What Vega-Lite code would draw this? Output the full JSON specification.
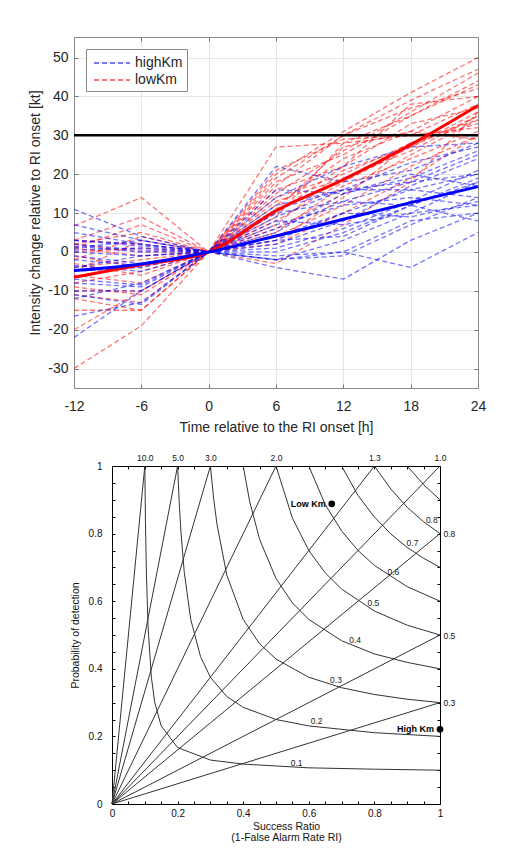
{
"$schema": "https://vega.github.io/schema/vega-lite/v6.json",
"background": "white",
"padding": {"left": 28, "top": 36, "right": 5, "bottom": 0},
"spacing": 19,
"config": {"font": "Liberation Sans", "view": {"stroke": null}, "axis": {"labelFont": "Liberation Sans", "titleFont": "Liberation Sans", "titleFontWeight": "normal", "labelFlush": false, "labelOverlap": false}},
"datasets": {
"ind": [
{"s":"R1","k":"lowKm","t":-12,"v":6.7},{"s":"R1","k":"lowKm","t":-6,"v":14},{"s":"R1","k":"lowKm","t":0,"v":0},{"s":"R1","k":"lowKm","t":6,"v":27},{"s":"R1","k":"lowKm","t":12,"v":28},{"s":"R1","k":"lowKm","t":18,"v":35},{"s":"R1","k":"lowKm","t":24,"v":43},
{"s":"R2","k":"lowKm","t":-12,"v":-30},{"s":"R2","k":"lowKm","t":-6,"v":-19},{"s":"R2","k":"lowKm","t":0,"v":0},{"s":"R2","k":"lowKm","t":6,"v":20},{"s":"R2","k":"lowKm","t":12,"v":31},{"s":"R2","k":"lowKm","t":18,"v":41},{"s":"R2","k":"lowKm","t":24,"v":50},
{"s":"R3","k":"lowKm","t":-12,"v":3},{"s":"R3","k":"lowKm","t":-6,"v":9},{"s":"R3","k":"lowKm","t":0,"v":0},{"s":"R3","k":"lowKm","t":6,"v":17},{"s":"R3","k":"lowKm","t":12,"v":30},{"s":"R3","k":"lowKm","t":18,"v":39},{"s":"R3","k":"lowKm","t":24,"v":47},
{"s":"R4","k":"lowKm","t":-12,"v":1},{"s":"R4","k":"lowKm","t":-6,"v":7},{"s":"R4","k":"lowKm","t":0,"v":0},{"s":"R4","k":"lowKm","t":6,"v":15},{"s":"R4","k":"lowKm","t":12,"v":26},{"s":"R4","k":"lowKm","t":18,"v":36},{"s":"R4","k":"lowKm","t":24,"v":46},
{"s":"R5","k":"lowKm","t":-12,"v":-2},{"s":"R5","k":"lowKm","t":-6,"v":4},{"s":"R5","k":"lowKm","t":0,"v":0},{"s":"R5","k":"lowKm","t":6,"v":12},{"s":"R5","k":"lowKm","t":12,"v":24},{"s":"R5","k":"lowKm","t":18,"v":31},{"s":"R5","k":"lowKm","t":24,"v":40},
{"s":"R6","k":"lowKm","t":-12,"v":-4},{"s":"R6","k":"lowKm","t":-6,"v":-2},{"s":"R6","k":"lowKm","t":0,"v":0},{"s":"R6","k":"lowKm","t":6,"v":10},{"s":"R6","k":"lowKm","t":12,"v":22},{"s":"R6","k":"lowKm","t":18,"v":33},{"s":"R6","k":"lowKm","t":24,"v":37},
{"s":"R7","k":"lowKm","t":-12,"v":-10},{"s":"R7","k":"lowKm","t":-6,"v":-10},{"s":"R7","k":"lowKm","t":0,"v":0},{"s":"R7","k":"lowKm","t":6,"v":8},{"s":"R7","k":"lowKm","t":12,"v":18},{"s":"R7","k":"lowKm","t":18,"v":27},{"s":"R7","k":"lowKm","t":24,"v":35},
{"s":"R8","k":"lowKm","t":-12,"v":-11},{"s":"R8","k":"lowKm","t":-6,"v":-13},{"s":"R8","k":"lowKm","t":0,"v":0},{"s":"R8","k":"lowKm","t":6,"v":6},{"s":"R8","k":"lowKm","t":12,"v":15},{"s":"R8","k":"lowKm","t":18,"v":25},{"s":"R8","k":"lowKm","t":24,"v":34},
{"s":"R9","k":"lowKm","t":-12,"v":-12},{"s":"R9","k":"lowKm","t":-6,"v":-15},{"s":"R9","k":"lowKm","t":0,"v":0},{"s":"R9","k":"lowKm","t":6,"v":14},{"s":"R9","k":"lowKm","t":12,"v":20},{"s":"R9","k":"lowKm","t":18,"v":28},{"s":"R9","k":"lowKm","t":24,"v":33},
{"s":"R10","k":"lowKm","t":-12,"v":-15},{"s":"R10","k":"lowKm","t":-6,"v":-15},{"s":"R10","k":"lowKm","t":0,"v":0},{"s":"R10","k":"lowKm","t":6,"v":9},{"s":"R10","k":"lowKm","t":12,"v":28},{"s":"R10","k":"lowKm","t":18,"v":30},{"s":"R10","k":"lowKm","t":24,"v":32},
{"s":"R11","k":"lowKm","t":-12,"v":-20},{"s":"R11","k":"lowKm","t":-6,"v":-10},{"s":"R11","k":"lowKm","t":0,"v":0},{"s":"R11","k":"lowKm","t":6,"v":5},{"s":"R11","k":"lowKm","t":12,"v":17},{"s":"R11","k":"lowKm","t":18,"v":24},{"s":"R11","k":"lowKm","t":24,"v":31},
{"s":"R12","k":"lowKm","t":-12,"v":2},{"s":"R12","k":"lowKm","t":-6,"v":0},{"s":"R12","k":"lowKm","t":0,"v":0},{"s":"R12","k":"lowKm","t":6,"v":2},{"s":"R12","k":"lowKm","t":12,"v":10},{"s":"R12","k":"lowKm","t":18,"v":19},{"s":"R12","k":"lowKm","t":24,"v":30},
{"s":"R13","k":"lowKm","t":-12,"v":-1},{"s":"R13","k":"lowKm","t":-6,"v":-4},{"s":"R13","k":"lowKm","t":0,"v":0},{"s":"R13","k":"lowKm","t":6,"v":-3},{"s":"R13","k":"lowKm","t":12,"v":7},{"s":"R13","k":"lowKm","t":18,"v":18},{"s":"R13","k":"lowKm","t":24,"v":36},
{"s":"R14","k":"lowKm","t":-12,"v":3},{"s":"R14","k":"lowKm","t":-6,"v":2},{"s":"R14","k":"lowKm","t":0,"v":0},{"s":"R14","k":"lowKm","t":6,"v":21},{"s":"R14","k":"lowKm","t":12,"v":29},{"s":"R14","k":"lowKm","t":18,"v":30},{"s":"R14","k":"lowKm","t":24,"v":38},
{"s":"R15","k":"lowKm","t":-12,"v":-8},{"s":"R15","k":"lowKm","t":-6,"v":-5},{"s":"R15","k":"lowKm","t":0,"v":0},{"s":"R15","k":"lowKm","t":6,"v":11},{"s":"R15","k":"lowKm","t":12,"v":27},{"s":"R15","k":"lowKm","t":18,"v":31},{"s":"R15","k":"lowKm","t":24,"v":29},
{"s":"R16","k":"lowKm","t":-12,"v":-6},{"s":"R16","k":"lowKm","t":-6,"v":-8},{"s":"R16","k":"lowKm","t":0,"v":0},{"s":"R16","k":"lowKm","t":6,"v":13},{"s":"R16","k":"lowKm","t":12,"v":19},{"s":"R16","k":"lowKm","t":18,"v":26},{"s":"R16","k":"lowKm","t":24,"v":35},
{"s":"R17","k":"lowKm","t":-12,"v":0},{"s":"R17","k":"lowKm","t":-6,"v":1},{"s":"R17","k":"lowKm","t":0,"v":0},{"s":"R17","k":"lowKm","t":6,"v":19},{"s":"R17","k":"lowKm","t":12,"v":30},{"s":"R17","k":"lowKm","t":18,"v":37},{"s":"R17","k":"lowKm","t":24,"v":42},
{"s":"R18","k":"lowKm","t":-12,"v":-3},{"s":"R18","k":"lowKm","t":-6,"v":-6},{"s":"R18","k":"lowKm","t":0,"v":0},{"s":"R18","k":"lowKm","t":6,"v":4},{"s":"R18","k":"lowKm","t":12,"v":12},{"s":"R18","k":"lowKm","t":18,"v":22},{"s":"R18","k":"lowKm","t":24,"v":30},
{"s":"R19","k":"lowKm","t":-12,"v":2},{"s":"R19","k":"lowKm","t":-6,"v":5},{"s":"R19","k":"lowKm","t":0,"v":0},{"s":"R19","k":"lowKm","t":6,"v":16},{"s":"R19","k":"lowKm","t":12,"v":22},{"s":"R19","k":"lowKm","t":18,"v":38},{"s":"R19","k":"lowKm","t":24,"v":40},
{"s":"R20","k":"lowKm","t":-12,"v":-9},{"s":"R20","k":"lowKm","t":-6,"v":-11},{"s":"R20","k":"lowKm","t":0,"v":0},{"s":"R20","k":"lowKm","t":6,"v":7},{"s":"R20","k":"lowKm","t":12,"v":21},{"s":"R20","k":"lowKm","t":18,"v":27},{"s":"R20","k":"lowKm","t":24,"v":36},
{"s":"R21","k":"lowKm","t":-12,"v":1},{"s":"R21","k":"lowKm","t":-6,"v":-1},{"s":"R21","k":"lowKm","t":0,"v":0},{"s":"R21","k":"lowKm","t":6,"v":3},{"s":"R21","k":"lowKm","t":12,"v":14},{"s":"R21","k":"lowKm","t":18,"v":28},{"s":"R21","k":"lowKm","t":24,"v":34},
{"s":"R22","k":"lowKm","t":-12,"v":-5},{"s":"R22","k":"lowKm","t":-6,"v":3},{"s":"R22","k":"lowKm","t":0,"v":0},{"s":"R22","k":"lowKm","t":6,"v":18},{"s":"R22","k":"lowKm","t":12,"v":25},{"s":"R22","k":"lowKm","t":18,"v":35},{"s":"R22","k":"lowKm","t":24,"v":44},
{"s":"B1","k":"highKm","t":-12,"v":11},{"s":"B1","k":"highKm","t":-6,"v":4},{"s":"B1","k":"highKm","t":0,"v":0},{"s":"B1","k":"highKm","t":6,"v":22},{"s":"B1","k":"highKm","t":12,"v":18},{"s":"B1","k":"highKm","t":18,"v":21},{"s":"B1","k":"highKm","t":24,"v":28},
{"s":"B2","k":"highKm","t":-12,"v":7},{"s":"B2","k":"highKm","t":-6,"v":3},{"s":"B2","k":"highKm","t":0,"v":0},{"s":"B2","k":"highKm","t":6,"v":16},{"s":"B2","k":"highKm","t":12,"v":15},{"s":"B2","k":"highKm","t":18,"v":19},{"s":"B2","k":"highKm","t":24,"v":26},
{"s":"B3","k":"highKm","t":-12,"v":3},{"s":"B3","k":"highKm","t":-6,"v":1.5},{"s":"B3","k":"highKm","t":0,"v":0},{"s":"B3","k":"highKm","t":6,"v":12},{"s":"B3","k":"highKm","t":12,"v":16},{"s":"B3","k":"highKm","t":18,"v":23},{"s":"B3","k":"highKm","t":24,"v":27},
{"s":"B4","k":"highKm","t":-12,"v":2},{"s":"B4","k":"highKm","t":-6,"v":0.5},{"s":"B4","k":"highKm","t":0,"v":0},{"s":"B4","k":"highKm","t":6,"v":6},{"s":"B4","k":"highKm","t":12,"v":13},{"s":"B4","k":"highKm","t":18,"v":18},{"s":"B4","k":"highKm","t":24,"v":25},
{"s":"B5","k":"highKm","t":-12,"v":0},{"s":"B5","k":"highKm","t":-6,"v":-1},{"s":"B5","k":"highKm","t":0,"v":0},{"s":"B5","k":"highKm","t":6,"v":3},{"s":"B5","k":"highKm","t":12,"v":10},{"s":"B5","k":"highKm","t":18,"v":16},{"s":"B5","k":"highKm","t":24,"v":20},
{"s":"B6","k":"highKm","t":-12,"v":-1},{"s":"B6","k":"highKm","t":-6,"v":-3},{"s":"B6","k":"highKm","t":0,"v":0},{"s":"B6","k":"highKm","t":6,"v":0},{"s":"B6","k":"highKm","t":12,"v":5},{"s":"B6","k":"highKm","t":18,"v":12},{"s":"B6","k":"highKm","t":24,"v":19},
{"s":"B7","k":"highKm","t":-12,"v":-3.5},{"s":"B7","k":"highKm","t":-6,"v":-5},{"s":"B7","k":"highKm","t":0,"v":0},{"s":"B7","k":"highKm","t":6,"v":-2},{"s":"B7","k":"highKm","t":12,"v":3},{"s":"B7","k":"highKm","t":18,"v":10},{"s":"B7","k":"highKm","t":24,"v":18},
{"s":"B8","k":"highKm","t":-12,"v":-7},{"s":"B8","k":"highKm","t":-6,"v":-8.5},{"s":"B8","k":"highKm","t":0,"v":0},{"s":"B8","k":"highKm","t":6,"v":-2},{"s":"B8","k":"highKm","t":12,"v":-1},{"s":"B8","k":"highKm","t":18,"v":7},{"s":"B8","k":"highKm","t":24,"v":14},
{"s":"B9","k":"highKm","t":-12,"v":-10},{"s":"B9","k":"highKm","t":-6,"v":-10},{"s":"B9","k":"highKm","t":0,"v":0},{"s":"B9","k":"highKm","t":6,"v":-1},{"s":"B9","k":"highKm","t":12,"v":0},{"s":"B9","k":"highKm","t":18,"v":-4},{"s":"B9","k":"highKm","t":24,"v":5},
{"s":"B10","k":"highKm","t":-12,"v":-11},{"s":"B10","k":"highKm","t":-6,"v":-13.5},{"s":"B10","k":"highKm","t":0,"v":0},{"s":"B10","k":"highKm","t":6,"v":-4},{"s":"B10","k":"highKm","t":12,"v":-7},{"s":"B10","k":"highKm","t":18,"v":3},{"s":"B10","k":"highKm","t":24,"v":10},
{"s":"B11","k":"highKm","t":-12,"v":-16.5},{"s":"B11","k":"highKm","t":-6,"v":-13},{"s":"B11","k":"highKm","t":0,"v":0},{"s":"B11","k":"highKm","t":6,"v":10},{"s":"B11","k":"highKm","t":12,"v":13},{"s":"B11","k":"highKm","t":18,"v":12},{"s":"B11","k":"highKm","t":24,"v":8},
{"s":"B12","k":"highKm","t":-12,"v":-22},{"s":"B12","k":"highKm","t":-6,"v":-10},{"s":"B12","k":"highKm","t":0,"v":0},{"s":"B12","k":"highKm","t":6,"v":2},{"s":"B12","k":"highKm","t":12,"v":8},{"s":"B12","k":"highKm","t":18,"v":17},{"s":"B12","k":"highKm","t":24,"v":24},
{"s":"B13","k":"highKm","t":-12,"v":1},{"s":"B13","k":"highKm","t":-6,"v":3},{"s":"B13","k":"highKm","t":0,"v":0},{"s":"B13","k":"highKm","t":6,"v":14},{"s":"B13","k":"highKm","t":12,"v":22},{"s":"B13","k":"highKm","t":18,"v":27},{"s":"B13","k":"highKm","t":24,"v":28},
{"s":"B14","k":"highKm","t":-12,"v":-2},{"s":"B14","k":"highKm","t":-6,"v":-3.5},{"s":"B14","k":"highKm","t":0,"v":0},{"s":"B14","k":"highKm","t":6,"v":7},{"s":"B14","k":"highKm","t":12,"v":12},{"s":"B14","k":"highKm","t":18,"v":14},{"s":"B14","k":"highKm","t":24,"v":12},
{"s":"B15","k":"highKm","t":-12,"v":0.5},{"s":"B15","k":"highKm","t":-6,"v":1},{"s":"B15","k":"highKm","t":0,"v":0},{"s":"B15","k":"highKm","t":6,"v":4},{"s":"B15","k":"highKm","t":12,"v":10},{"s":"B15","k":"highKm","t":18,"v":9},{"s":"B15","k":"highKm","t":24,"v":13},
{"s":"B16","k":"highKm","t":-12,"v":-5},{"s":"B16","k":"highKm","t":-6,"v":-4},{"s":"B16","k":"highKm","t":0,"v":0},{"s":"B16","k":"highKm","t":6,"v":1},{"s":"B16","k":"highKm","t":12,"v":6},{"s":"B16","k":"highKm","t":18,"v":13},{"s":"B16","k":"highKm","t":24,"v":21},
{"s":"B17","k":"highKm","t":-12,"v":-8},{"s":"B17","k":"highKm","t":-6,"v":-9},{"s":"B17","k":"highKm","t":0,"v":0},{"s":"B17","k":"highKm","t":6,"v":9},{"s":"B17","k":"highKm","t":12,"v":16},{"s":"B17","k":"highKm","t":18,"v":18},{"s":"B17","k":"highKm","t":24,"v":20},
{"s":"B18","k":"highKm","t":-12,"v":3},{"s":"B18","k":"highKm","t":-6,"v":2},{"s":"B18","k":"highKm","t":0,"v":0},{"s":"B18","k":"highKm","t":6,"v":-2},{"s":"B18","k":"highKm","t":12,"v":0},{"s":"B18","k":"highKm","t":18,"v":8},{"s":"B18","k":"highKm","t":24,"v":10},
{"s":"B19","k":"highKm","t":-12,"v":-12},{"s":"B19","k":"highKm","t":-6,"v":-8},{"s":"B19","k":"highKm","t":0,"v":0},{"s":"B19","k":"highKm","t":6,"v":5},{"s":"B19","k":"highKm","t":12,"v":15},{"s":"B19","k":"highKm","t":18,"v":20},{"s":"B19","k":"highKm","t":24,"v":17},
{"s":"B20","k":"highKm","t":-12,"v":1.5},{"s":"B20","k":"highKm","t":-6,"v":0},{"s":"B20","k":"highKm","t":0,"v":0},{"s":"B20","k":"highKm","t":6,"v":11},{"s":"B20","k":"highKm","t":12,"v":16},{"s":"B20","k":"highKm","t":18,"v":16},{"s":"B20","k":"highKm","t":24,"v":14},
{"s":"B21","k":"highKm","t":-12,"v":-4},{"s":"B21","k":"highKm","t":-6,"v":-1},{"s":"B21","k":"highKm","t":0,"v":0},{"s":"B21","k":"highKm","t":6,"v":8},{"s":"B21","k":"highKm","t":12,"v":7},{"s":"B21","k":"highKm","t":18,"v":10},{"s":"B21","k":"highKm","t":24,"v":12},
{"s":"B22","k":"highKm","t":-12,"v":5},{"s":"B22","k":"highKm","t":-6,"v":2},{"s":"B22","k":"highKm","t":0,"v":0},{"s":"B22","k":"highKm","t":6,"v":3},{"s":"B22","k":"highKm","t":12,"v":4},{"s":"B22","k":"highKm","t":18,"v":12},{"s":"B22","k":"highKm","t":24,"v":18}
],
"mean": [
{"k":"lowKm","t":-12,"v":-6.5},{"k":"lowKm","t":-6,"v":-3.3},{"k":"lowKm","t":0,"v":0},{"k":"lowKm","t":6,"v":10.6},{"k":"lowKm","t":12,"v":18.6},{"k":"lowKm","t":18,"v":27.6},{"k":"lowKm","t":24,"v":37.7},
{"k":"highKm","t":-12,"v":-4.8},{"k":"highKm","t":-6,"v":-3.1},{"k":"highKm","t":0,"v":0},{"k":"highKm","t":6,"v":4.1},{"k":"highKm","t":12,"v":8.4},{"k":"highKm","t":18,"v":12.7},{"k":"highKm","t":24,"v":16.8}
],
"bias": [
{"b":"10.0","sr":0,"pod":0},{"b":"10.0","sr":0.1,"pod":1},
{"b":"5.0","sr":0,"pod":0},{"b":"5.0","sr":0.2,"pod":1},
{"b":"3.0","sr":0,"pod":0},{"b":"3.0","sr":0.3,"pod":1},
{"b":"2.0","sr":0,"pod":0},{"b":"2.0","sr":0.5,"pod":1},
{"b":"1.3","sr":0,"pod":0},{"b":"1.3","sr":0.8,"pod":1},
{"b":"1.0","sr":0,"pod":0},{"b":"1.0","sr":1,"pod":1},
{"b":"0.8","sr":0,"pod":0},{"b":"0.8","sr":1,"pod":0.8},
{"b":"0.5","sr":0,"pod":0},{"b":"0.5","sr":1,"pod":0.5},
{"b":"0.3","sr":0,"pod":0},{"b":"0.3","sr":1,"pod":0.3}
],
"csi": [
{"c":"0.1","sr":0.1,"pod":1},{"c":"0.1","sr":0.102,"pod":0.836},{"c":"0.1","sr":0.105,"pod":0.678},{"c":"0.1","sr":0.11,"pod":0.524},{"c":"0.1","sr":0.12,"pod":0.375},{"c":"0.1","sr":0.13,"pod":0.302},{"c":"0.1","sr":0.15,"pod":0.231},{"c":"0.1","sr":0.2,"pod":0.167},{"c":"0.1","sr":0.3,"pod":0.13},{"c":"0.1","sr":0.4,"pod":0.118},{"c":"0.1","sr":0.6,"pod":0.107},{"c":"0.1","sr":0.8,"pod":0.103},{"c":"0.1","sr":1,"pod":0.1},
{"c":"0.2","sr":0.2,"pod":1},{"c":"0.2","sr":0.205,"pod":0.891},{"c":"0.2","sr":0.21,"pod":0.808},{"c":"0.2","sr":0.22,"pod":0.688},{"c":"0.2","sr":0.24,"pod":0.546},{"c":"0.2","sr":0.27,"pod":0.436},{"c":"0.2","sr":0.3,"pod":0.375},{"c":"0.2","sr":0.35,"pod":0.318},{"c":"0.2","sr":0.4,"pod":0.286},{"c":"0.2","sr":0.5,"pod":0.25},{"c":"0.2","sr":0.6,"pod":0.231},{"c":"0.2","sr":0.8,"pod":0.211},{"c":"0.2","sr":1,"pod":0.2},
{"c":"0.3","sr":0.3,"pod":1},{"c":"0.3","sr":0.31,"pod":0.903},{"c":"0.3","sr":0.32,"pod":0.828},{"c":"0.3","sr":0.35,"pod":0.677},{"c":"0.3","sr":0.4,"pod":0.546},{"c":"0.3","sr":0.45,"pod":0.474},{"c":"0.3","sr":0.5,"pod":0.429},{"c":"0.3","sr":0.6,"pod":0.375},{"c":"0.3","sr":0.7,"pod":0.344},{"c":"0.3","sr":0.8,"pod":0.324},{"c":"0.3","sr":0.9,"pod":0.31},{"c":"0.3","sr":1,"pod":0.3},
{"c":"0.4","sr":0.4,"pod":1},{"c":"0.4","sr":0.42,"pod":0.894},{"c":"0.4","sr":0.45,"pod":0.783},{"c":"0.4","sr":0.5,"pod":0.667},{"c":"0.4","sr":0.55,"pod":0.595},{"c":"0.4","sr":0.6,"pod":0.546},{"c":"0.4","sr":0.7,"pod":0.483},{"c":"0.4","sr":0.8,"pod":0.444},{"c":"0.4","sr":0.9,"pod":0.419},{"c":"0.4","sr":1,"pod":0.4},
{"c":"0.5","sr":0.5,"pod":1},{"c":"0.5","sr":0.55,"pod":0.846},{"c":"0.5","sr":0.6,"pod":0.75},{"c":"0.5","sr":0.65,"pod":0.684},{"c":"0.5","sr":0.7,"pod":0.636},{"c":"0.5","sr":0.8,"pod":0.571},{"c":"0.5","sr":0.9,"pod":0.529},{"c":"0.5","sr":1,"pod":0.5},
{"c":"0.6","sr":0.6,"pod":1},{"c":"0.6","sr":0.65,"pod":0.886},{"c":"0.6","sr":0.7,"pod":0.808},{"c":"0.6","sr":0.75,"pod":0.75},{"c":"0.6","sr":0.8,"pod":0.706},{"c":"0.6","sr":0.9,"pod":0.643},{"c":"0.6","sr":1,"pod":0.6},
{"c":"0.7","sr":0.7,"pod":1},{"c":"0.7","sr":0.75,"pod":0.913},{"c":"0.7","sr":0.8,"pod":0.849},{"c":"0.7","sr":0.85,"pod":0.799},{"c":"0.7","sr":0.9,"pod":0.759},{"c":"0.7","sr":0.95,"pod":0.727},{"c":"0.7","sr":1,"pod":0.7},
{"c":"0.8","sr":0.8,"pod":1},{"c":"0.8","sr":0.85,"pod":0.932},{"c":"0.8","sr":0.9,"pod":0.878},{"c":"0.8","sr":0.95,"pod":0.835},{"c":"0.8","sr":1,"pod":0.8},
{"c":"0.9","sr":0.9,"pod":1},{"c":"0.9","sr":0.95,"pod":0.945},{"c":"0.9","sr":1,"pod":0.9}
],
"csilab": [
{"lab":"0.1","sr":0.563,"pod":0.122},{"lab":"0.2","sr":0.624,"pod":0.245},{"lab":"0.3","sr":0.683,"pod":0.367},{"lab":"0.4","sr":0.741,"pod":0.485},{"lab":"0.5","sr":0.797,"pod":0.594},{"lab":"0.6","sr":0.858,"pod":0.687},{"lab":"0.7","sr":0.916,"pod":0.771},{"lab":"0.8","sr":0.975,"pod":0.84}
],
"pts": [
{"name":"Low Km","sr":0.67,"pod":0.888},{"name":"High Km","sr":1.0,"pod":0.221}
]
},
"vconcat": [
{
"width": 404, "height": 351,
"resolve": {"axis": {"x": "independent", "y": "independent"}},
"layer": [
{"data": {"name": "ind"},
 "mark": {"type": "line", "strokeWidth": 1.3, "strokeDash": [5, 3], "opacity": 0.55},
 "encoding": {
  "x": {"field": "t", "type": "quantitative", "scale": {"domain": [-12, 24], "nice": false, "zero": false},
   "axis": {"orient": "bottom", "values": [-12, -6, 0, 6, 12, 18, 24], "labelExpr": "'' + datum.value", "title": "Time relative to the RI onset [h]", "grid": true, "gridColor": "#e6e6e6", "domainColor": "#8a8a8a", "tickColor": "#777", "tickSize": -4, "labelPadding": 15, "labelFontSize": 14, "labelColor": "#262626", "titleFontSize": 14, "titleColor": "#262626", "titlePadding": 7}},
  "y": {"field": "v", "type": "quantitative", "scale": {"domain": [-35, 55.3], "nice": false, "zero": false},
   "axis": {"orient": "left", "values": [-30, -20, -10, 0, 10, 20, 30, 40, 50], "labelExpr": "'' + datum.value", "title": "Intensity change relative to RI onset [kt]", "grid": true, "gridColor": "#e6e6e6", "domainColor": "#8a8a8a", "tickColor": "#777", "tickSize": -4, "labelPadding": 10, "labelFontSize": 14, "labelColor": "#262626", "titleFontSize": 14, "titleColor": "#262626", "titlePadding": 5}},
  "color": {"field": "k", "type": "nominal", "scale": {"domain": ["highKm", "lowKm"], "range": ["#0000ff", "#ff0000"]},
   "legend": {"title": null, "orient": "top-left", "offset": 12, "fillColor": "white", "strokeColor": "#888", "padding": 4, "labelFontSize": 14, "labelColor": "#262626", "symbolType": "M-0.67,0H3.33", "symbolDash": [5, 3], "symbolStrokeWidth": 1.3, "symbolSize": 324, "symbolOpacity": 0.7, "rowPadding": 0, "labelOffset": 25}},
  "detail": {"field": "s", "type": "nominal"}
 }},
{"data": {"values": [{}]},
 "mark": {"type": "rule", "color": "black", "strokeWidth": 2.5},
 "encoding": {
  "x": {"datum": -12, "type": "quantitative", "axis": {"orient": "top", "values": [-12, -6, 0, 6, 12, 18, 24], "labels": false, "title": null, "grid": false, "tickSize": -4, "domainColor": "#8a8a8a", "tickColor": "#777"}},
  "x2": {"datum": 24},
  "y": {"datum": 30, "type": "quantitative", "axis": {"orient": "right", "values": [-30, -20, -10, 0, 10, 20, 30, 40, 50], "labels": false, "title": null, "grid": false, "tickSize": -4, "domainColor": "#8a8a8a", "tickColor": "#777"}}
 }},
{"data": {"name": "mean"},
 "mark": {"type": "line", "strokeWidth": 3, "interpolate": "monotone"},
 "encoding": {
  "x": {"field": "t", "type": "quantitative", "axis": null},
  "y": {"field": "v", "type": "quantitative", "axis": null},
  "color": {"field": "k", "type": "nominal"}
 }}
]
},
{
"width": 366, "height": 338,
"resolve": {"axis": {"x": "independent", "y": "independent"}},
"layer": [
{"data": {"name": "bias"},
 "mark": {"type": "line", "color": "#333", "strokeWidth": 1},
 "encoding": {
  "x": {"field": "sr", "type": "quantitative", "scale": {"domain": [0, 1], "range": [38, 366], "nice": false, "zero": false},
   "axis": {"orient": "bottom", "values": [0, 0.05, 0.1, 0.15, 0.2, 0.25, 0.3, 0.35, 0.4, 0.45, 0.5, 0.55, 0.6, 0.65, 0.7, 0.75, 0.8, 0.85, 0.9, 0.95, 1], "labelExpr": "round(datum.value*20)%4==0 ? format(datum.value,'~g') : ''", "title": ["Success Ratio", "(1-False Alarm Rate RI)"], "titleX": 212, "grid": false, "domainColor": "black", "tickColor": "black", "tickSize": -3, "labelPadding": 7, "labelFontSize": 10, "labelColor": "#111", "titleFontSize": 10.5, "titleColor": "#111", "titleLineHeight": 11, "titlePadding": 3}},
  "y": {"field": "pod", "type": "quantitative", "scale": {"domain": [0, 1], "nice": false, "zero": false},
   "axis": {"orient": "left", "offset": -38, "values": [0, 0.05, 0.1, 0.15, 0.2, 0.25, 0.3, 0.35, 0.4, 0.45, 0.5, 0.55, 0.6, 0.65, 0.7, 0.75, 0.8, 0.85, 0.9, 0.95, 1], "labelExpr": "round(datum.value*20)%4==0 ? format(datum.value,'~g') : ''", "title": "Probability of detection", "grid": false, "domainColor": "black", "tickColor": "black", "tickSize": -3, "labelPadding": 13, "labelFontSize": 10, "labelColor": "#111", "titleFontSize": 10.5, "titleColor": "#111", "titlePadding": 8}},
  "detail": {"field": "b", "type": "nominal"}
 }},
{"data": {"name": "csi"},
 "mark": {"type": "line", "color": "#333", "strokeWidth": 1},
 "encoding": {
  "x": {"field": "sr", "type": "quantitative", "axis": null},
  "y": {"field": "pod", "type": "quantitative", "axis": null},
  "detail": {"field": "c", "type": "nominal"}
 }},
{"data": {"name": "csilab"},
 "mark": {"type": "text", "fontSize": 8.5, "color": "#222", "align": "center", "baseline": "middle"},
 "encoding": {
  "x": {"field": "sr", "type": "quantitative", "axis": null},
  "y": {"field": "pod", "type": "quantitative", "axis": null},
  "text": {"field": "lab", "type": "nominal"}
 }},
{"data": {"name": "pts"},
 "mark": {"type": "point", "filled": true, "color": "black", "size": 45, "opacity": 1},
 "encoding": {
  "x": {"field": "sr", "type": "quantitative", "axis": {"orient": "top", "values": [0, 0.05, 0.1, 0.15, 0.2, 0.25, 0.3, 0.35, 0.4, 0.45, 0.5, 0.55, 0.6, 0.65, 0.7, 0.75, 0.8, 0.85, 0.9, 0.95, 1], "labelExpr": "round(datum.value*20)==2?'10.0':round(datum.value*20)==4?'5.0':round(datum.value*20)==6?'3.0':round(datum.value*20)==10?'2.0':round(datum.value*20)==16?'1.3':round(datum.value*20)==20?'1.0':''", "title": null, "grid": false, "domainColor": "black", "tickColor": "black", "tickSize": -3, "labelPadding": 7, "labelFontSize": 8.5, "labelColor": "#111"}},
  "y": {"field": "pod", "type": "quantitative", "axis": {"orient": "right", "values": [0, 0.05, 0.1, 0.15, 0.2, 0.25, 0.3, 0.35, 0.4, 0.45, 0.5, 0.55, 0.6, 0.65, 0.7, 0.75, 0.8, 0.85, 0.9, 0.95, 1], "labelExpr": "round(datum.value*20)==6?'0.3':round(datum.value*20)==10?'0.5':round(datum.value*20)==16?'0.8':''", "title": null, "grid": false, "domainColor": "black", "tickColor": "black", "tickSize": -3, "labelPadding": 6, "labelFontSize": 8.5, "labelColor": "#111"}}
 }},
{"data": {"name": "pts"},
 "mark": {"type": "text", "align": "right", "baseline": "middle", "dx": -6, "fontSize": 9, "fontWeight": "bold", "color": "black"},
 "encoding": {
  "x": {"field": "sr", "type": "quantitative", "axis": null},
  "y": {"field": "pod", "type": "quantitative", "axis": null},
  "text": {"field": "name", "type": "nominal"}
 }}
]
}
]
}
